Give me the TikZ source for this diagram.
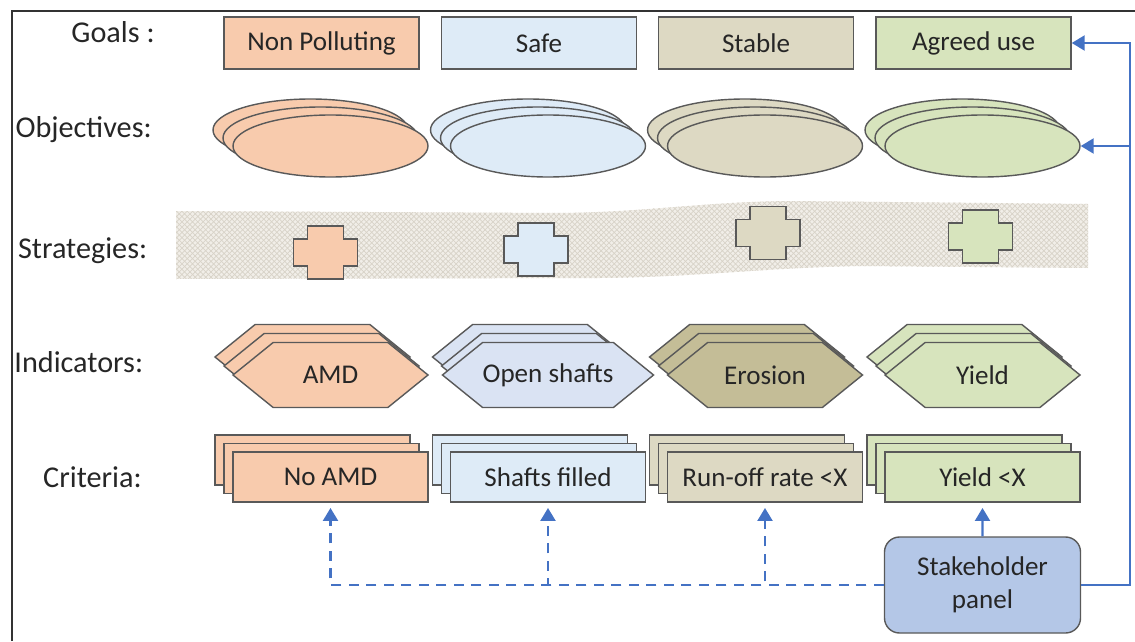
\documentclass[tikz,border=0pt]{standalone}
\usepackage{fontspec}
\setmainfont{Carlito}
\usepackage{xcolor}
\usetikzlibrary{positioning,calc,shapes.symbols,shapes.geometric,arrows.meta,patterns}

\definecolor{npfill}{HTML}{F8CBAD}
\definecolor{safefill}{HTML}{DEEBF7}
\definecolor{safehex}{HTML}{DAE3F3}
\definecolor{stabfill}{HTML}{DDD9C3}
\definecolor{stabhex}{HTML}{C4BD97}
\definecolor{agrfill}{HTML}{D7E4BD}
\definecolor{panelfill}{HTML}{B4C7E7}
\definecolor{linkblue}{HTML}{4472C4}
\definecolor{edge}{HTML}{595959}
\definecolor{bandfill}{HTML}{F1EEE8}
\definecolor{bandhatch}{HTML}{D8D3C8}

\begin{document}
\begin{tikzpicture}[
				goal/.style={draw=edge, line width=0.8pt, minimum width=3.9cm, minimum height=1.04cm, inner sep=0pt, font=\fontsize{15.4}{18}\selectfont, text=black!85},
				obj/.style={ellipse, draw=edge, line width=0.8pt, minimum width=3.9cm, minimum height=1.24cm, inner sep=0pt},
				ind/.style={signal, signal to=east and west, signal pointer angle=78, draw=edge, line width=0.8pt, minimum width=3.9cm, minimum height=1.3cm, inner sep=0pt, font=\fontsize{15.4}{18}\selectfont, text=black!85},
				crit/.style={draw=edge, line width=0.8pt, minimum width=3.9cm, minimum height=1cm, inner sep=0pt, font=\fontsize{15.4}{18}\selectfont, text=black!85},
				lbl/.style={anchor=base east, inner sep=0pt, font=\fontsize{17.2}{20}\selectfont, text=black!85},
				stratbox/.style={draw=edge, line width=0.8pt},
				stratcross/.pic={
					\draw[pic actions] (-0.36,0.53) -- (0.36,0.53) -- (0.36,0.27) -- (0.64,0.27) -- (0.64,-0.27) -- (0.36,-0.27)
						-- (0.36,-0.53) -- (-0.36,-0.53) -- (-0.36,-0.27) -- (-0.64,-0.27) -- (-0.64,0.27) -- (-0.36,0.27) -- cycle;
				},
				arr/.style={-{Triangle[length=0.26cm, width=0.3cm]}, draw=linkblue, line width=1.3pt},
				dasharr/.style={arr, dash pattern=on 0.2cm off 0.15cm, shorten >=3pt}
				]
				\useasboundingbox (0,0) rectangle (22.7,-12.82);
				
				% outer frame (only top and left visible)
				\draw[line width=1pt, black!80] (0.24,-12.82) -- (0.24,-0.22) -- (22.7,-0.22);
				
				% ==========================================
				% ROW LABELS
				% ==========================================
				\node[lbl] (lblgoal) at (3.1,-0.86) {Goals :};
				\node[lbl] (lblobj) at (3.04,-2.76) {Objectives:};
				\node[lbl] (lblstrat) at (2.95,-5.16) {Strategies:};
				\node[lbl] (lblind) at (2.87,-7.44) {Indicators:};
				\node[lbl] (lblcrit) at (2.84,-9.74) {Criteria:};
				
				% strategies band
				\fill[bandfill, postaction={pattern=crosshatch, pattern color=bandhatch}]
					(3.52,-4.22) -- (11.2,-4.26) .. controls (13.0,-4.24) and (14.0,-4.04) .. (15.8,-4.02) -- (21.76,-4.08)
					-- (21.76,-5.36) -- (17.2,-5.32) .. controls (15.2,-5.36) and (14.0,-5.54) .. (12.0,-5.56) -- (3.52,-5.58) -- cycle;
				
				% -- Column 1 (Non Polluting) --
				\begin{scope}[xshift=6.61cm]
					\node[goal, fill=npfill] (goal1) at (-0.18,-0.86) {Non Polluting};
					\node[obj, fill=npfill] (obj1c) at (-0.4,-2.6) {};
					\node[obj, fill=npfill] (obj1b) at (-0.2,-2.76) {};
					\node[obj, fill=npfill] (obj1) at (0,-2.92) {};
					\pic[stratbox, fill=npfill] at (-0.1,-5.05) {stratcross};
					\node[ind, fill=npfill] (ind1c) at (-0.36,-7.14) {};
					\node[ind, fill=npfill] (ind1b) at (-0.18,-7.32) {};
					\node[ind, fill=npfill] (ind1) at (0,-7.5) {AMD};
					\node[crit, fill=npfill] (crit1c) at (-0.36,-9.2) {};
					\node[crit, fill=npfill] (crit1b) at (-0.18,-9.37) {};
					\node[crit, fill=npfill] (crit1) at (0,-9.54) {No AMD};
				\end{scope}
				
				% -- Column 2 (Safe) --
				\begin{scope}[xshift=10.96cm]
					\node[goal, fill=safefill] (goal2) at (-0.18,-0.86) {Safe};
					\node[obj, fill=safefill] (obj2c) at (-0.4,-2.6) {};
					\node[obj, fill=safefill] (obj2b) at (-0.2,-2.76) {};
					\node[obj, fill=safefill] (obj2) at (0,-2.92) {};
					\pic[stratbox, fill=safefill] at (-0.24,-4.99) {stratcross};
					\node[ind, fill=safehex] (ind2c) at (-0.36,-7.14) {};
					\node[ind, fill=safehex] (ind2b) at (-0.18,-7.32) {};
					\node[ind, fill=safehex] (ind2) at (0,-7.5) {Open shafts};
					\node[crit, fill=safefill] (crit2c) at (-0.36,-9.2) {};
					\node[crit, fill=safefill] (crit2b) at (-0.18,-9.37) {};
					\node[crit, fill=safefill] (crit2) at (0,-9.54) {Shafts filled};
				\end{scope}
				
				% -- Column 3 (Stable) --
				\begin{scope}[xshift=15.30cm]
					\node[goal, fill=stabfill] (goal3) at (-0.18,-0.86) {Stable};
					\node[obj, fill=stabfill] (obj3c) at (-0.4,-2.6) {};
					\node[obj, fill=stabfill] (obj3b) at (-0.2,-2.76) {};
					\node[obj, fill=stabfill] (obj3) at (0,-2.92) {};
					\pic[stratbox, fill=stabfill] at (0.06,-4.66) {stratcross};
					\node[ind, fill=stabhex] (ind3c) at (-0.36,-7.14) {};
					\node[ind, fill=stabhex] (ind3b) at (-0.18,-7.32) {};
					\node[ind, fill=stabhex] (ind3) at (0,-7.5) {Erosion};
					\node[crit, fill=stabfill] (crit3c) at (-0.36,-9.2) {};
					\node[crit, fill=stabfill] (crit3b) at (-0.18,-9.37) {};
					\node[crit, fill=stabfill] (crit3) at (0,-9.54) {Run-off rate <X};
				\end{scope}
				
				% -- Column 4 (Agreed use) --
				\begin{scope}[xshift=19.65cm]
					\node[goal, fill=agrfill] (goal4) at (-0.18,-0.86) {Agreed use};
					\node[obj, fill=agrfill] (obj4c) at (-0.4,-2.6) {};
					\node[obj, fill=agrfill] (obj4b) at (-0.2,-2.76) {};
					\node[obj, fill=agrfill] (obj4) at (0,-2.92) {};
					\pic[stratbox, fill=agrfill] at (-0.04,-4.73) {stratcross};
					\node[ind, fill=agrfill] (ind4c) at (-0.36,-7.14) {};
					\node[ind, fill=agrfill] (ind4b) at (-0.18,-7.32) {};
					\node[ind, fill=agrfill] (ind4) at (0,-7.5) {Yield};
					\node[crit, fill=agrfill] (crit4c) at (-0.36,-9.2) {};
					\node[crit, fill=agrfill] (crit4b) at (-0.18,-9.37) {};
					\node[crit, fill=agrfill] (crit4) at (0,-9.54) {Yield <X};
				\end{scope}
				
				% ==========================================
				% STAKEHOLDER PANEL + LINKS
				% ==========================================
				\node[draw=edge, line width=0.8pt, fill=panelfill, rounded corners=0.3cm, minimum width=3.92cm, minimum height=1.92cm,
					align=center, font=\fontsize{15.4}{19}\selectfont, text=black!85] (panel) at (19.65,-11.7) {Stakeholder\\panel};
				\coordinate (rail) at (22.6,0);
				
				\draw[arr, shorten >=3pt] (panel.north) -- (crit4.south);
				\draw[dasharr] (panel.west) -| (crit1.south);
				\draw[dasharr] (panel.west) -| (crit2.south);
				\draw[dasharr] (panel.west) -| (crit3.south);
				\draw[arr] (panel.east) -| (rail |- goal4.east) -- (goal4.east);
				\draw[arr] (rail |- obj4.east) -- (obj4.east);
				
			\end{tikzpicture}
\end{document}
